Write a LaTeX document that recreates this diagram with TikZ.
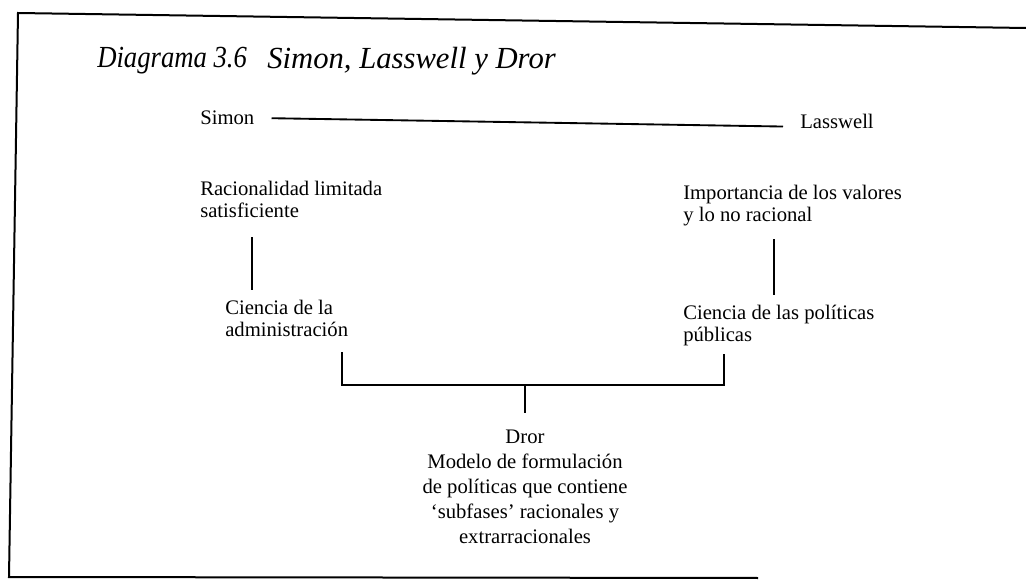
\documentclass[tikz,border=0pt]{standalone}
\usepackage{fontspec}
\setmainfont{Liberation Serif}
\usetikzlibrary{calc}
\begin{document}
\begin{tikzpicture}[x=0.75pt,y=-0.75pt,
  txt/.style={inner sep=0pt, anchor=north west, align=left,
    font=\fontsize{15.5}{16.5}\selectfont},
  drortxt/.style={inner sep=0pt, anchor=north, align=center,
    font=\fontsize{15.5}{18.75}\selectfont},
  ttl/.style={inner sep=0pt, anchor=north west,
    font=\fontsize{23}{26}\selectfont\itshape},
  ln/.style={line width=1.4pt},
  frame/.style={line width=1.5pt}]
\useasboundingbox (0,0) rectangle (1026,588);
% frame (open on the right)
\draw[frame] (1026,28) -- (18,13) -- (9,577) -- (758,578);
% title
\node[ttl] (t1) at (97,47) {\scalebox{0.87}[1]{Diagrama 3.6}};
\node[ttl] (t2) at (267,47) {Simon, Lasswell y Dror};
% Simon -- Lasswell
\node[txt] (simon) at (200,111) {Simon};
\node[txt] (lasswell) at (800,114) {Lasswell};
\draw[ln] ([shift={(17,0)}]simon.east) -- ([shift={(-17,5)}]lasswell.west);
% left column
\node[txt] (rac) at (200,181) {Racionalidad limitada\\satisficiente};
\node[txt] (cA) at (225,300) {Ciencia de la\\administración};
\draw[ln] ([shift={(52,19)}]rac.south west) -- ([shift={(27,-10)}]cA.north west);
% right column
\node[txt] (imp) at (683,185) {Importancia de los valores\\y lo no racional};
\node[txt] (cP) at (683,305) {Ciencia de las políticas\\públicas};
\draw[ln] ([shift={(91,13)}]imp.south west) -- ([shift={(91,-10)}]cP.north west);
% Dror
\node[drortxt] (dror) at (525,430) {Dror\\Modelo de formulación\\de políticas que contiene\\‘subfases’ racionales y\\extrarracionales};
\draw[ln] ([shift={(117,15)}]cA.south west) |- ([shift={(0,-45)}]dror.north) -| ([shift={(41,8)}]cP.south west);
\draw[ln] ([shift={(0,-45)}]dror.north) -- ([shift={(0,-17)}]dror.north);
\end{tikzpicture}
\end{document}
